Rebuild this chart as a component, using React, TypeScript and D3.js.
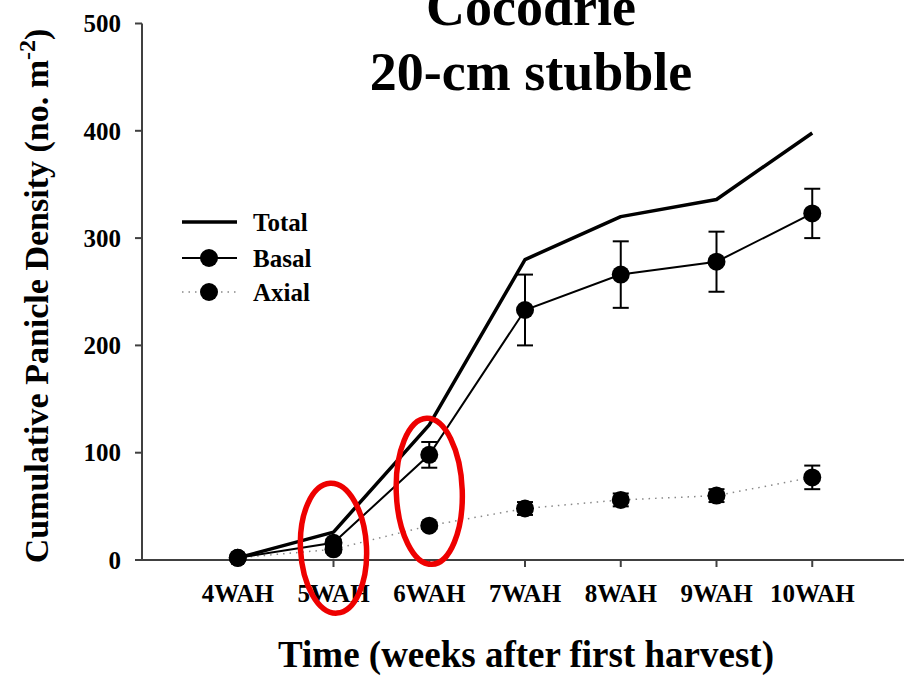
import React from "react";
import * as d3 from "d3";

const categories = ["4WAH", "5WAH", "6WAH", "7WAH", "8WAH", "9WAH", "10WAH"];
const weeks = [4, 5, 6, 7, 8, 9, 10];
const totalValues = [2, 26, 126, 280, 320, 336, 398];
const basalValues = [2, 16, 98, 233, 266, 278, 323];
const basalErrors = [0, 3, 12, 33, 31, 28, 23];
const axialValues = [2, 10, 32, 48, 56, 60, 77];
const axialErrors = [0, 3, 3, 6, 6, 6, 11];
const yTicks = [0, 100, 200, 300, 400, 500];
const circledWeeks = [
  { week: 5, value: 11, rx: 33, ry: 65, tilt: -3 },
  { week: 6, value: 64, rx: 33, ry: 73, tilt: -2 },
];

const W = 904;
const H = 677;
const FONT = "'Liberation Serif', 'Times New Roman', serif";

export default function App() {
  const x = d3.scaleLinear().domain([3, 11]).range([142, 908]);
  const y = d3.scaleLinear().domain([0, 500]).range([560, 23.5]);

  const line = d3
    .line<number>()
    .x((_, i) => x(weeks[i]))
    .y((d) => y(d));

  const axisColor = "#404040";

  return (
    <div style={{ position: "absolute", left: 0, top: 0, width: W, height: H, overflow: "hidden" }}>
      <svg width={W} height={H} style={{ display: "block", background: "#fff" }}>
        {/* axes */}
        <line x1={x(3)} x2={x(3)} y1={y(500)} y2={y(0)} stroke={axisColor} strokeWidth={2} />
        <line x1={x(3)} x2={x(11)} y1={y(0)} y2={y(0)} stroke={axisColor} strokeWidth={2} />
        {yTicks.map((t) => (
          <g key={t}>
            <line x1={x(3) - 7} x2={x(3)} y1={y(t)} y2={y(t)} stroke={axisColor} strokeWidth={2} />
            <text
              x={121}
              y={y(t)}
              dy="0.35em"
              textAnchor="end"
              fontFamily={FONT}
              fontWeight="bold"
              fontSize={25}
            >
              {t}
            </text>
          </g>
        ))}
        {weeks.map((w, i) => (
          <g key={w}>
            <line x1={x(w)} x2={x(w)} y1={y(0)} y2={y(0) + 7} stroke={axisColor} strokeWidth={2} />
            <text
              x={x(w)}
              y={602}
              textAnchor="middle"
              fontFamily={FONT}
              fontWeight="bold"
              fontSize={25}
            >
              {categories[i]}
            </text>
          </g>
        ))}

        {/* axis titles */}
        <text
          x={526}
          y={667}
          textAnchor="middle"
          fontFamily={FONT}
          fontWeight="bold"
          fontSize={37}
        >
          Time (weeks after first harvest)
        </text>
        <text
          transform={`translate(48, 296) rotate(-90)`}
          textAnchor="middle"
          fontFamily={FONT}
          fontWeight="bold"
          fontSize={34}
        >
          Cumulative Panicle Density (no. m
          <tspan dy={-13} fontSize={24}>-2</tspan>
          <tspan dy={13}>)</tspan>
        </text>

        {/* title */}
        <text x={531} y={25} textAnchor="middle" fontFamily={FONT} fontWeight="bold" fontSize={54}>
          Cocodrie
        </text>
        <text x={531} y={90} textAnchor="middle" fontFamily={FONT} fontWeight="bold" fontSize={54}>
          20-cm stubble
        </text>

        {/* axial dotted line */}
        <path
          d={line(axialValues) || ""}
          fill="none"
          stroke="#888"
          strokeWidth={1.5}
          strokeDasharray="1.5,5"
        />
        {/* total line */}
        <path d={line(totalValues) || ""} fill="none" stroke="#000" strokeWidth={3.5} strokeLinejoin="round" />
        {/* basal line */}
        <path d={line(basalValues) || ""} fill="none" stroke="#000" strokeWidth={2} />

        {/* error bars */}
        {[
          { vals: basalValues, errs: basalErrors },
          { vals: axialValues, errs: axialErrors },
        ].map((s, si) =>
          s.vals.map((v, i) =>
            s.errs[i] > 0 ? (
              <g key={`e${si}-${i}`} stroke="#000" strokeWidth={2}>
                <line x1={x(weeks[i])} x2={x(weeks[i])} y1={y(v + s.errs[i])} y2={y(v - s.errs[i])} />
                <line x1={x(weeks[i]) - 8} x2={x(weeks[i]) + 8} y1={y(v + s.errs[i])} y2={y(v + s.errs[i])} />
                <line x1={x(weeks[i]) - 8} x2={x(weeks[i]) + 8} y1={y(v - s.errs[i])} y2={y(v - s.errs[i])} />
              </g>
            ) : null
          )
        )}

        {/* markers */}
        {basalValues.map((v, i) => (
          <circle key={`b${i}`} cx={x(weeks[i])} cy={y(v)} r={9} fill="#000" />
        ))}
        {axialValues.map((v, i) => (
          <circle key={`a${i}`} cx={x(weeks[i])} cy={y(v)} r={9} fill="#000" />
        ))}

        {/* legend */}
        <g fontFamily={FONT} fontWeight="bold" fontSize={25}>
          <line x1={182} x2={237} y1={222} y2={222} stroke="#000" strokeWidth={3.5} />
          <text x={253} y={222} dy="0.35em">Total</text>
          <line x1={182} x2={237} y1={258} y2={258} stroke="#000" strokeWidth={2} />
          <circle cx={209} cy={258} r={9} fill="#000" />
          <text x={253} y={258} dy="0.35em">Basal</text>
          <line x1={182} x2={237} y1={292} y2={292} stroke="#888" strokeWidth={1.5} strokeDasharray="1.5,5" />
          <circle cx={209} cy={292} r={9} fill="#000" />
          <text x={253} y={292} dy="0.35em">Axial</text>
        </g>

        {/* red annotation ellipses */}
        {circledWeeks.map((c) => (
          <ellipse
            key={c.week}
            cx={x(c.week)}
            cy={y(c.value)}
            rx={c.rx}
            ry={c.ry}
            transform={`rotate(${c.tilt}, ${x(c.week)}, ${y(c.value)})`}
            fill="none"
            stroke="#ee0000"
            strokeWidth={5.5}
          />
        ))}
      </svg>
    </div>
  );
}
